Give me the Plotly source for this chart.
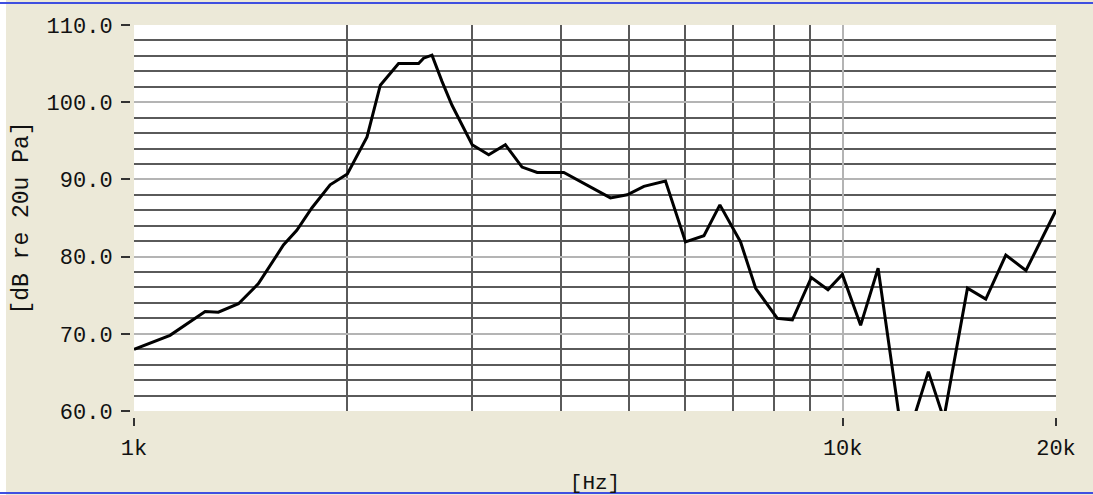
import plotly.graph_objects as go

# Frequency response data
freq_hz = [1000, 1124, 1260, 1315, 1404, 1498, 1625, 1697, 1782, 1891,
           2000, 2132, 2226, 2362, 2521, 2562, 2633, 2720, 2810, 3000,
           3166, 3342, 3528, 3706, 4041, 4382, 4702, 4966, 5242, 5623,
           6001, 6371, 6710, 7176, 7537, 8087, 8492, 9032, 9533, 9990,
           10600, 11220, 12200, 13210, 13890, 15000, 15920, 16990, 18140, 20000]
level_db = [68.0, 69.8, 72.9, 72.8, 73.9, 76.5, 81.5, 83.4, 86.3, 89.3,
            90.7, 95.5, 102.2, 105.0, 105.0, 105.7, 106.1, 102.7, 99.6, 94.5,
            93.2, 94.5, 91.6, 90.9, 90.9, 89.1, 87.6, 88.0, 89.1, 89.8,
            81.9, 82.7, 86.7, 81.9, 75.9, 72.0, 71.8, 77.3, 75.7, 77.7,
            71.1, 78.5, 55.0, 65.1, 59.0, 75.9, 74.5, 80.2, 78.2, 86.0]

x_tick_vals = [1000, 10000, 20000]
x_tick_text = ["1k", "10k", "20k"]
x_grid_dark = [1000, 2000, 3000, 4000, 5000, 6000, 7000, 8000, 9000]
x_grid_light = [10000]
y_tick_vals = [60, 70, 80, 90, 100, 110]
y_tick_text = ["60.0", "70.0", "80.0", "90.0", "100.0", "110.0"]
y_grid_light = [70, 80, 90, 100, 110]
y_grid_dark = [v for v in range(62, 110, 2) if v % 10 != 0]

FONT = "Liberation Mono"
BG = "#ECE9D8"
DARK = "#5a5a5a"
LIGHT = "#b4b4b4"

xr = [3, 4.30103]
yr = [60, 110]

fig = go.Figure()
fig.add_trace(go.Scatter(x=freq_hz, y=level_db, mode="lines",
                         line=dict(color="black", width=3), showlegend=False,
                         hoverinfo="skip"))
# invisible trace so the label axes are drawn
fig.add_trace(go.Scatter(x=[freq_hz[0]], y=[level_db[0]], xaxis="x2", yaxis="y2",
                         mode="markers", marker=dict(opacity=0), showlegend=False,
                         hoverinfo="skip"))

xdom = [0.0356, 1.0]
ydom = [0.0585, 1.0]

fig.update_layout(
    width=1093, height=495,
    margin=dict(l=100, r=37, t=25, b=60, autoexpand=False),
    paper_bgcolor=BG, plot_bgcolor="white",
    font=dict(family=FONT, size=22, color="#111"),
    xaxis=dict(type="log", range=xr, domain=xdom, anchor="y",
               tickvals=x_grid_light, showticklabels=False, ticks="",
               showgrid=True, gridcolor=LIGHT, gridwidth=2,
               minor=dict(tickvals=x_grid_dark, showgrid=True, gridcolor=DARK,
                          gridwidth=2, ticks=""),
               showline=False, zeroline=False, automargin=False),
    yaxis=dict(range=yr, domain=ydom, anchor="x",
               tickvals=y_grid_light, showticklabels=False, ticks="",
               showgrid=True, gridcolor=LIGHT, gridwidth=2,
               minor=dict(tickvals=y_grid_dark, showgrid=True, gridcolor=DARK,
                          gridwidth=2, ticks=""),
               showline=False, zeroline=False, automargin=False),
    xaxis2=dict(type="log", range=xr, domain=xdom, overlaying="x",
                anchor="free", position=0.0439, side="bottom",
                tickvals=x_tick_vals, ticktext=x_tick_text,
                ticks="outside", ticklen=8, tickwidth=2, tickcolor="#333",
                ticklabelstandoff=3, automargin=False,
                showgrid=False, showline=False, zeroline=False,
                tickfont=dict(size=22),
                title=dict(text="[Hz]", standoff=13, font=dict(size=21))),
    yaxis2=dict(range=yr, domain=ydom, overlaying="y",
                anchor="free", position=0.0314, side="left",
                tickvals=y_tick_vals, ticktext=y_tick_text,
                ticks="outside", ticklen=9, tickwidth=2, tickcolor="#333",
                ticklabelstandoff=4, automargin=False,
                showgrid=False, showline=False, zeroline=False,
                tickfont=dict(size=22),
                title=dict(text="[dB re 20u Pa]", standoff=10, font=dict(size=23))),
    shapes=[
        dict(type="line", xref="paper", yref="paper", x0=-0.2, x1=1.1,
             y0=1.0537, y1=1.0537, line=dict(color="#3f4fe0", width=2)),
        dict(type="line", xref="paper", yref="paper", x0=-0.2, x1=1.1,
             y0=-0.1415, y1=-0.1415, line=dict(color="#3f4fe0", width=2)),
        dict(type="rect", xref="paper", yref="paper", x0=-0.2, x1=-0.0983,
             y0=-0.2, y1=1.2, fillcolor="white", line=dict(width=0), layer="below"),
    ],
)

fig.write_html("out.html", config={"displayModeBar": False},
               post_script="document.body.style.margin='0';document.body.style.overflow='hidden';")
